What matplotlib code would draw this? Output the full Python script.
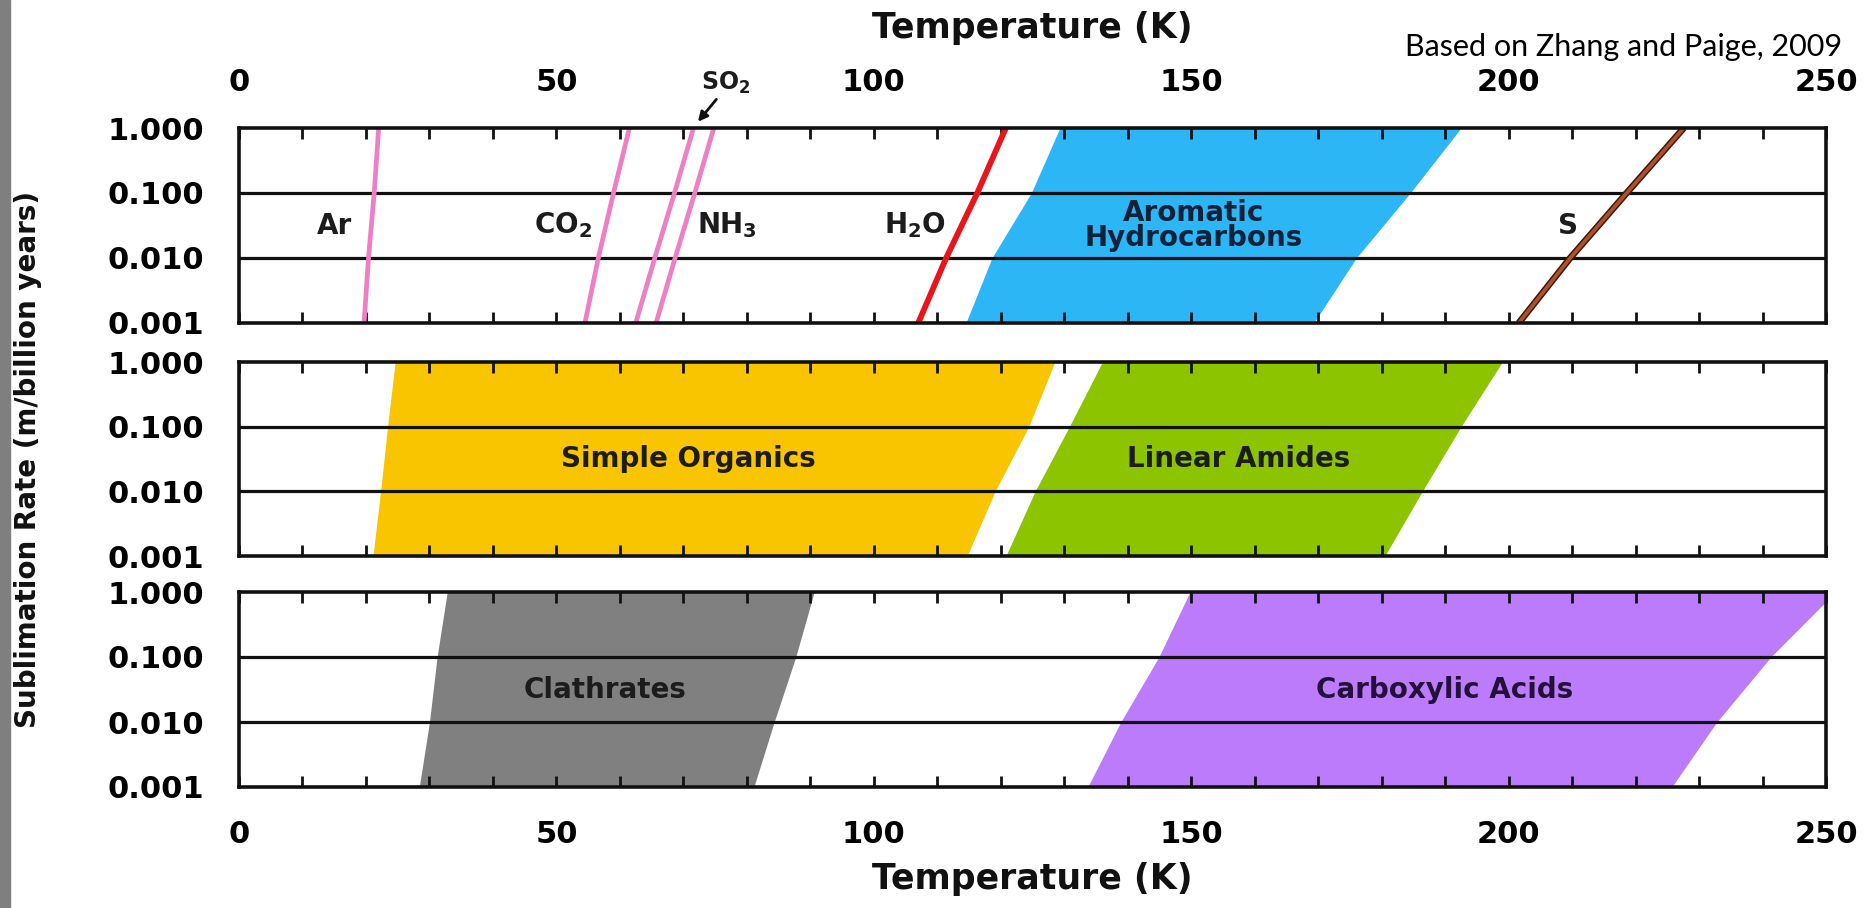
import matplotlib
matplotlib.use('Agg')
import matplotlib.pyplot as plt
import matplotlib.patheffects as pe
from matplotlib import font_manager
from matplotlib.patches import Rectangle
from matplotlib.ticker import FixedLocator, MultipleLocator

plt.rcParams['font.family'] = ['DejaVu Sans']
plt.rcParams['font.weight'] = 'bold'
plt.rcParams['mathtext.fontset'] = 'dejavusans'

# ---- data (temperature in K at each sublimation rate) ----
rates = [0.001, 0.01, 0.1, 1.0]
rate_labels = ['0.001', '0.010', '0.100', '1.000']
temp_ticks = [0, 50, 100, 150, 200, 250]

ar = [19.7, 20.4, 21.3, 22.0]
co2 = [54.5, 56.6, 59.0, 61.5]
so2 = [62.5, 65.5, 68.6, 71.6]
nh3 = [65.7, 68.7, 71.8, 74.8]
h2o = [107.0, 111.4, 116.3, 120.8]
sulfur = [201.6, 209.7, 218.6, 227.6]

arom_lo = [114.5, 118.6, 124.8, 129.3]
arom_hi = [169.3, 176.0, 184.5, 192.5]

simple_lo = [21.1, 22.3, 23.4, 24.6]
simple_hi = [114.7, 119.1, 124.4, 128.5]
amide_lo = [120.8, 125.4, 130.8, 136.0]
amide_hi = [180.5, 186.4, 192.5, 199.0]

clath_lo = [28.4, 30.0, 31.2, 32.8]
clath_hi = [81.1, 84.3, 87.7, 90.6]
carbox_lo = [133.7, 138.9, 144.9, 149.8]
carbox_hi = [225.7, 232.8, 241.3, 251.5]

W, H = 1876, 908
fig = plt.figure(figsize=(W / 100, H / 100), dpi=100)
fig.patch.set_facecolor('white')
fig.patches.append(Rectangle((0, 0), 10 / W, 1, transform=fig.transFigure,
                             color='#7f7f7f', zorder=0))


def frac(x0, y0, x1, y1):
    return [x0 / W, 1 - y1 / H, (x1 - x0) / W, (y1 - y0) / H]


ax1 = fig.add_axes(frac(239, 128, 1826, 323))
ax2 = fig.add_axes(frac(239, 362, 1826, 556))
ax3 = fig.add_axes(frac(239, 592, 1826, 787))

for ax in (ax1, ax2, ax3):
    ax.set_yscale('log')
    ax.set_ylim(0.001, 1.0)
    ax.set_xlim(0, 250)
    ax.yaxis.set_major_locator(FixedLocator(rates))
    ax.yaxis.set_minor_locator(FixedLocator([]))
    ax.set_yticklabels(rate_labels)
    ax.xaxis.set_major_locator(FixedLocator(temp_ticks))
    ax.xaxis.set_minor_locator(MultipleLocator(10))
    ax.tick_params(axis='y', length=0, pad=25, labelsize=22)
    ax.tick_params(axis='x', which='both', direction='in', top=True,
                   bottom=True, length=8, width=2.0, color='#111111',
                   labelsize=22)
    for sp in ax.spines.values():
        sp.set_linewidth(2.6)
        sp.set_color('#111111')
        sp.set_zorder(6)
    for g in (0.01, 0.1):
        ax.axhline(g, color='#111111', lw=2.3, zorder=3)

ax1.tick_params(axis='x', which='both', labeltop=True, labelbottom=False,
                pad=22)
ax2.tick_params(axis='x', which='both', labeltop=False, labelbottom=False)
ax3.tick_params(axis='x', which='both', labeltop=False, labelbottom=True,
                pad=24)

pink = '#ee7fc4'
lw_pink = 3.4
for series in (ar, co2, so2, nh3):
    ax1.plot(series, rates, color=pink, lw=lw_pink, zorder=4,
             solid_capstyle='butt')
ax1.plot(h2o, rates, color='#e8161c', lw=4.2, zorder=4, solid_capstyle='butt')
ax1.plot(sulfur, rates, color='#b0502a', lw=2.6, zorder=4,
         solid_capstyle='butt',
         path_effects=[pe.Stroke(linewidth=4.8, foreground='#3b1a0c'),
                       pe.Normal()])
ax1.fill_betweenx(rates, arom_lo, arom_hi, color='#2cb6f5', lw=0, zorder=1)

ax2.fill_betweenx(rates, simple_lo, simple_hi, color='#f9c400', lw=0, zorder=1)
ax2.fill_betweenx(rates, amide_lo, amide_hi, color='#8cc400', lw=0, zorder=1)

ax3.fill_betweenx(rates, clath_lo, clath_hi, color='#808080', lw=0, zorder=1)
ax3.fill_betweenx(rates, carbox_lo, carbox_hi, color='#bb7bfb', lw=0, zorder=1)

ymid = 0.0316
lab = dict(ha='center', va='center', fontsize=20, color='#1c1c1c', zorder=5)
ax1.text(15.0, ymid, 'Ar', **lab)
ax1.text(51.1, ymid, 'CO$_\\mathbf{2}$', **lab)
ax1.text(76.8, ymid, 'NH$_\\mathbf{3}$', **lab)
ax1.text(106.5, ymid, 'H$_\\mathbf{2}$O', **lab)
ax1.text(150.4, ymid, 'Aromatic\nHydrocarbons', linespacing=0.9,
         **dict(lab, color='#10223a'))
ax1.text(209.4, ymid, 'S', **lab)
ax2.text(70.8, ymid, 'Simple Organics', **lab)
ax2.text(157.4, ymid, 'Linear Amides', **lab)
ax3.text(57.7, ymid, 'Clathrates', **lab)
ax3.text(190.0, ymid, 'Carboxylic Acids', **dict(lab, color='#24103a'))

ax1.text(76.6, 1.231, 'SO$_\\mathbf{2}$', transform=ax1.get_xaxis_transform(),
         ha='center', va='center', fontsize=17, color='#1c1c1c')
ax1.annotate('', xy=(72.3, 1.032), xytext=(75.2, 1.147),
             xycoords=ax1.get_xaxis_transform(),
             textcoords=ax1.get_xaxis_transform(),
             arrowprops=dict(arrowstyle='-|>', color='#111111', lw=2.0,
                             mutation_scale=14, shrinkA=0, shrinkB=0),
             annotation_clip=False)

fig.text(1032 / W, 1 - 28 / H, 'Temperature (K)', ha='center', va='center',
         fontsize=25, color='#111111')
fig.text(1032 / W, 1 - 879 / H, 'Temperature (K)', ha='center', va='center',
         fontsize=25, color='#111111')

installed = {f.name for f in font_manager.fontManager.ttflist}
if 'Liberation Sans Narrow' in installed:
    ylab_font, ylab_size = ['Liberation Sans Narrow', 'DejaVu Sans'], 28
else:
    ylab_font, ylab_size = ['DejaVu Sans'], 20
fig.text(28 / W, 1 - 459 / H, 'Sublimation Rate (m/billion years)',
         rotation=90, ha='center', va='center', fontsize=ylab_size,
         family=ylab_font, color='#111111')
fig.text(1842 / W, 1 - 47 / H, 'Based on Zhang and Paige, 2009', ha='right',
         va='center', fontsize=22, fontweight='normal',
         family=['Lato', 'DejaVu Sans'], color='#000000')

fig.savefig('out.png', dpi=100)
